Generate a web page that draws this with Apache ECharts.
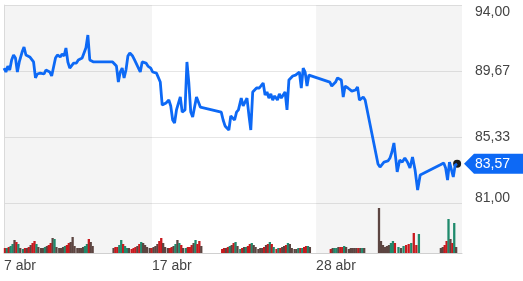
<!DOCTYPE html>
<html><head><meta charset="utf-8">
<script src="https://cdn.jsdelivr.net/npm/echarts@6/dist/echarts.min.js"></script>
<style>html,body{margin:0;padding:0;background:#fff}#c{width:523px;height:281px}</style>
</head><body><div id="c"></div>
<script>
// x axis = trading-time in session units
const tickPos = [0, 8.18, 17.24];
const tickLabels = ['7 abr', '17 abr', '28 abr'];
const axisEnd = 25.3;
const priceTicks = [81, 85.33, 89.67, 94];
const lastPrice = 83.57;

const sessionStart = [0, 1, 2, 3, 4, 6, 7, 8, 9, 10, 12, 13, 14, 15, 16, 18, 19, 20.66, 21.72, 24.08];
const sessionSpan  = [0.95,0.95,0.95,0.95,0.95, 0.95,0.95,0.95,0.95,0.95, 0.95,0.95,0.95,0.95,0.95, 0.95,0.95, 0.99,1.27, 0.95];

// price samples per session
const p0  = [89.86, 89.60, 89.99, 89.73, 90.39, 90.72, 90.52, 89.60, 90.26, 90.39];
const p1  = [90.91, 91.24, 90.72, 90.85, 90.59, 90.72, 90.26, 89.21, 89.47, 89.53];
const p2  = [89.53, 89.60, 89.47, 89.73, 89.86, 89.60, 89.34, 89.21, 90.52, 90.72];
const p3  = [90.65, 90.59, 90.79, 90.65, 91.18, 90.26, 89.86, 89.99, 90.19, 90.19];
const p4  = [90.19, 90.39, 90.52, 90.52, 90.65, 91.20, 92.03, 90.39, 90.26, 90.26];
const p5  = [90.26, 90.39, 89.99, 88.94, 89.60, 89.86, 89.21, 89.73, 90.65, 90.85];
const p6  = [90.91, 90.65, 90.39, 90.13, 90.26, 89.60, 90.26, 90.39, 90.19, 89.99];
const p7  = [89.93, 89.86, 89.60, 89.73, 89.53, 89.47, 88.94, 87.43, 87.50, 87.57];
const p8  = [87.63, 87.76, 87.37, 86.45, 86.25, 87.11, 87.24, 87.96, 86.97, 86.97];
const p9  = [87.11, 90.26, 88.88, 86.97, 86.65, 86.78, 87.96, 87.63, 87.30, 87.24];
const p10 = [86.97, 86.45, 86.06, 86.19, 85.79, 86.71, 86.84, 86.45, 86.97, 87.11];
const p11 = [87.24, 87.89, 87.37, 87.30, 87.89, 86.78, 85.79, 88.29, 88.42, 88.55];
const p12 = [88.55, 88.55, 88.68, 88.88, 88.09, 88.29, 87.89, 88.16, 87.76, 88.03];
const p13 = [88.03, 87.76, 88.16, 87.89, 88.09, 88.29, 87.11, 89.08, 89.21, 89.34];
const p14 = [89.34, 89.40, 89.34, 89.60, 88.55, 89.86, 89.60, 88.68, 89.40, 89.40];
const p15 = [88.94, 88.68, 88.55, 88.94, 89.21, 89.34, 89.08, 87.96, 88.68, 88.55];
const p16 = [88.55, 88.42, 88.35, 88.29, 88.42, 88.62, 87.76, 87.63, 87.96, 87.76];
const p17 = [83.56, 83.36, 83.49, 83.69, 83.63, 83.76, 83.95, 84.35, 84.94, 83.82];
const p18 = [83.04, 83.82, 83.69, 83.95, 83.69, 83.30, 84.02, 83.17, 81.85, 82.84];
const p19 = [83.49, 83.43, 83.63, 83.30, 82.51, 83.69, 83.82, 82.71, 83.49, 83.57];
const priceSessions = [p0,p1,p2,p3,p4,p5,p6,p7,p8,p9,p10,p11,p12,p13,p14,p15,p16,p17,p18,p19];

// volume per session (9 intervals each)
const v0  = [5,5,6,7,9,13,11,9,5];
const v1  = [4,5,5,6,8,10,12,9,6];
const v2  = [5,5,6,7,8,10,15,14,6];
const v3  = [5,5,6,7,8,10,11,16,7];
const v4  = [5,5,5,6,7,9,14,11,7];
const v5  = [5,6,6,8,13,9,7,5,5];
const v6  = [4,5,6,7,9,11,10,8,6];
const v7  = [5,5,6,7,9,12,15,10,6];
const v8  = [5,5,6,7,9,13,10,8,5];
const v9  = [5,6,6,8,10,13,9,12,7];
const v10 = [4,5,5,6,7,8,10,11,7];
const v11 = [4,5,6,6,7,9,10,8,6];
const v12 = [4,5,5,6,8,9,11,9,6];
const v13 = [4,5,5,6,7,8,10,9,5];
const v14 = [4,4,5,5,5,6,7,7,6];
const v15 = [4,5,5,5,6,6,6,7,6];
const v16 = [4,5,5,5,5,5,5,5,5];
const v17 = [45,12,8,6,7,8,10,12,10];
const v18 = [6,5,7,8,9,10,20,8,19];
const v19 = [5,6,8,12,34,14,10,30,6];
const volSessions = [v0,v1,v2,v3,v4,v5,v6,v7,v8,v9,v10,v11,v12,v13,v14,v15,v16,v17,v18,v19];

const BLUE = '#0d69f5';
const FONT = '"Liberation Sans", Arial, sans-serif';

const lineData = [];
const volData = [];
priceSessions.forEach((ps, s) => {
  const st = sessionStart[s], sp = sessionSpan[s];
  ps.forEach((p, i) => lineData.push([st + i * sp / (ps.length - 1), p]));
  volSessions[s].forEach((v, i) => {
    const d = ps[i + 1] - ps[i];
    const col = Math.abs(d) < 0.25 ? '#5c4541' : (d > 0 ? '#1f8a6c' : '#c8191e');
    volData.push({ value: [st + (i + 0.5) * sp / 9, v], itemStyle: { color: col } });
  });
});

const bands = [
  [{ xAxis: tickPos[0] }, { xAxis: tickPos[1] }],
  [{ xAxis: tickPos[2] }, { xAxis: axisEnd }]
];
const bandStyle = { color: 'rgba(0,0,0,0.045)' };

const chart = echarts.init(document.getElementById('c'), null, { renderer: 'canvas' });
const fmt = v => v.toFixed(2).replace('.', ',');
chart.setOption({
  animation: false,
  textStyle: { fontFamily: FONT },
  grid: [
    { left: 4, right: 61, top: 5, height: 198 },
    { left: 4, right: 61, top: 203, height: 50 }
  ],
  xAxis: [
    { gridIndex: 0, type: 'value', min: 0, max: axisEnd, show: false },
    { gridIndex: 1, type: 'value', min: 0, max: axisEnd,
      axisLine: { lineStyle: { color: '#d0d0d0' } },
      axisTick: { show: false }, splitLine: { show: false },
      axisLabel: { customValues: tickPos, align: 'left', margin: 6, color: '#444', fontSize: 14, fontFamily: FONT,
        formatter: v => { let k = 0; tickPos.forEach((t, i) => { if (Math.abs(t - v) < Math.abs(tickPos[k] - v)) k = i; }); return tickLabels[k]; } } }
  ],
  yAxis: [
    { gridIndex: 0, type: 'value', position: 'right', min: priceTicks[0], max: priceTicks[3], interval: 13 / 3,
      axisLine: { show: true, lineStyle: { color: '#e4e4e4' } }, axisTick: { show: false },
      splitLine: { lineStyle: { color: '#e6e6e6' } },
      axisLabel: { margin: 13, align: 'left', color: '#444', fontSize: 14, fontFamily: FONT,
        formatter: v => v > 93.9 ? '{t|' + fmt(v) + '}' : (v < 81.1 ? '{b|' + fmt(v) + '}' : fmt(v)),
        rich: {
          t: { padding: [14, 0, 0, 0], fontSize: 14, color: '#444', fontFamily: FONT },
          b: { padding: [0, 0, 10, 0], fontSize: 14, color: '#444', fontFamily: FONT }
        } } },
    { gridIndex: 1, type: 'value', position: 'right', min: 0, max: 50,
      axisLine: { show: true, lineStyle: { color: '#e4e4e4' } }, axisTick: { show: false },
      splitLine: { show: false }, axisLabel: { show: false } }
  ],
  series: [
    { type: 'line', xAxisIndex: 0, yAxisIndex: 0, data: lineData, showSymbol: false, z: 5,
      lineStyle: { color: BLUE, width: 2.8 }, itemStyle: { color: BLUE },
      markArea: { silent: true, itemStyle: bandStyle, data: bands },
      markPoint: { symbol: 'circle', symbolSize: 8, itemStyle: { color: '#1b1b1b' }, label: { show: false },
        data: [{ coord: lineData[lineData.length - 1] }] } },
    { type: 'bar', xAxisIndex: 1, yAxisIndex: 1, data: volData, barWidth: 2.3, z: 3,
      markArea: { silent: true, itemStyle: bandStyle, data: bands } }
  ]
});

const py = chart.convertToPixel({ gridIndex: 0 }, [axisEnd, lastPrice])[1];
chart.setOption({
  graphic: [
    { type: 'polygon', shape: { points: [[464, py], [474, py - 10], [523, py - 10], [523, py + 10], [474, py + 10]] },
      style: { fill: BLUE } },
    { type: 'text', x: 475, y: py, style: { text: fmt(lastPrice), fill: '#fff', font: '14px ' + FONT, textVerticalAlign: 'middle', verticalAlign: 'middle' } }
  ]
});
</script></body></html>
